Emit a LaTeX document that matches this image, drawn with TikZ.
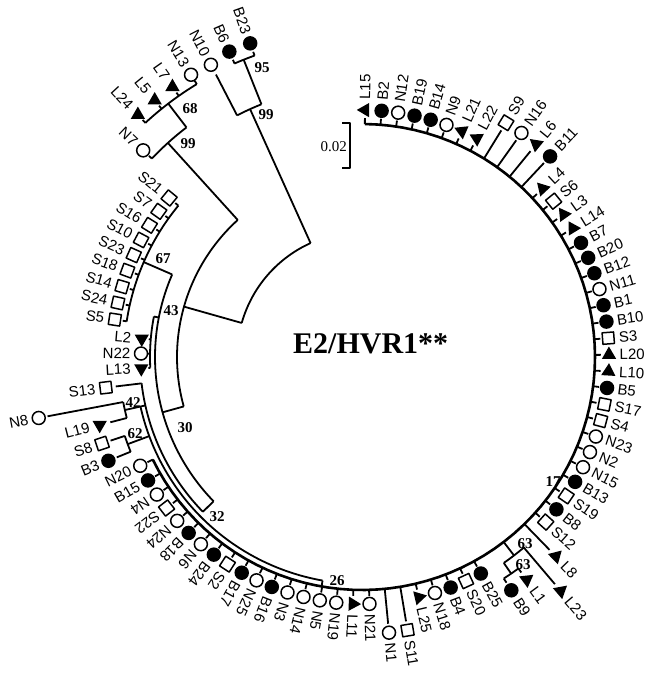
\documentclass[tikz,border=0pt]{standalone}
\usepackage{fontspec}
\setmainfont{Liberation Serif}
\setsansfont{Liberation Sans}
\usetikzlibrary{shapes.geometric}
\newcommand\Arc[3]{\draw[br] plot[domain=#2:#3,samples=80,variable=\q] ({362+(#1)*cos(\q)},{357+(#1)*sin(\q)});}
\newcommand\Rad[3]{\draw[br] ({362+(#2)*cos(#1)},{357+(#2)*sin(#1)}) -- ({362+(#3)*cos(#1)},{357+(#3)*sin(#1)});}
\newcommand\Symb[4]{%
  \if#1B\node[dotB] (#2) at (#3) {};\fi
  \if#1N\node[circN] (#2) at (#3) {};\fi
  \if#1S\node[sqS,rotate=#4] (#2) at (#3) {};\fi
  \if#1L\node[triL,rotate=#4] (#2) at (#3) {};\fi}
\begin{document}
\begin{tikzpicture}[x=1pt,y=-1pt,line join=round,
  br/.style={line width=1.8pt},
  dotB/.style={circle,fill=black,minimum size=14.5pt,inner sep=0pt},
  circN/.style={circle,draw=black,line width=1.5pt,fill=white,minimum size=13pt,inner sep=0pt},
  sqS/.style={rectangle,draw=black,line width=1.5pt,fill=white,minimum size=11.5pt,inner sep=0pt},
  triL/.style={regular polygon,regular polygon sides=3,fill=black,minimum size=16.5pt,inner sep=0pt},
  lab/.style={font=\sffamily\fontsize{15}{15}\selectfont,inner sep=0.5pt},
  bs/.style={font=\bfseries\fontsize{15}{15}\selectfont,inner sep=0pt}]
\useasboundingbox (0,0) rectangle (663,673);
\coordinate (C) at (362,357);
% ---- internal structure ----
\Arc{125}{195.8}{245.7}
\Rad{245.7}{125}{272}
\Arc{272}{242.7}{248.3}
\Rad{248.3}{272}{320}
\Arc{320}{246.5}{250.4}
\Rad{195.8}{125}{185}
\Arc{185}{164.5}{227.8}
\Rad{227.8}{185}{289}
\Arc{289}{223.4}{232.6}
\Rad{232.6}{289}{319}
\Arc{319}{227.2}{238.8}
\Rad{164.5}{185}{207}
\Arc{207}{135.8}{203.5}
\Rad{203.5}{207}{238}
\Arc{238}{188.6}{219.5}
\Rad{191}{207}{212}
\Arc{212}{177.1}{191}
\Rad{135.8}{207}{222}
\Arc{222}{135.8}{173.2}
\Rad{167.4}{222}{243}
\Arc{227}{100}{167.4}
\Arc{243}{165.5}{169.3}
\Rad{159.6}{227}{250}
\Arc{250}{157.7}{161.6}
\Rad{100}{227}{233}
\begin{scope}[br/.style={line width=2.6pt}]
\Arc{233}{-89.3}{153.9}
\end{scope}
\Rad{52.55}{233}{250}
\Arc{250}{49.66}{55.45}
\Rad{55.45}{250}{263}
\Arc{263}{53.52}{57.38}
% ---- leaves ----
\foreach \i/\nm/\tp/\ra/\rb/\rs in {
 0/L15/L/233/239/247, 1/B2/B/233/239/247, 2/N12/N/233/239/247, 3/B19/B/233/239/247,
 4/B14/B/233/239/247, 5/N9/N/233/239/247, 6/L21/L/233/239/247, 7/L22/L/233/239/247,
 8/S9/S/233/266/275, 9/N16/N/233/266/275, 10/L6/L/233/266/275, 11/B11/B/233/266/275,
 12/L4/L/233/239/247, 13/S6/S/233/239/247, 14/L3/L/233/239/247, 15/L14/L/233/239/247,
 16/B7/B/233/239/247, 17/B20/B/233/239/247, 18/B12/B/233/239/247, 19/N11/N/233/239/247,
 20/B1/B/233/239/247, 21/B10/B/233/239/247, 22/S3/S/233/239/247, 23/L20/L/233/239/247,
 24/L10/L/233/239/247, 25/B5/B/233/239/247, 26/S17/S/233/239/247, 27/S4/S/233/239/247,
 28/N23/N/233/239/247, 29/N2/N/233/239/247, 30/N15/N/233/239/247, 31/B13/B/233/239/247,
 32/S19/S/233/239/247, 33/B8/B/233/239/247, 34/S12/S/233/239/247, 35/L8/L/233/269/278,
 36/L23/L/250/298/307, 37/L1/L/263/268/277, 38/B9/B/263/268/277, 39/B25/B/233/239/247,
 40/S20/S/233/239/247, 41/B4/B/233/239/247, 42/N18/N/233/239/247, 43/L25/L/233/239/247,
 44/S11/S/233/268/277, 45/N1/N/233/268/277, 46/N21/N/233/239/247, 47/L11/L/233/239/247,
 48/N19/N/233/239/247, 49/N5/N/233/239/247, 50/N14/N/233/239/247, 51/N3/N/233/239/247,
 52/B16/B/233/239/247, 53/N25/N/233/239/247, 54/B17/B/233/239/247, 55/S2/S/233/239/247,
 56/B24/B/233/239/247, 57/N6/N/233/239/247, 58/B18/B/233/239/247, 59/N24/N/233/239/247,
 60/S22/S/233/239/247, 61/N4/N/233/239/247, 62/B15/B/233/239/247, 63/N20/N/233/239/247,
 64/B3/B/250/265/274, 65/S8/S/250/265/274, 66/L19/D/243/260/271, 67/N8/N/243/320/329,
 68/S13/S/222/248/258, 69/L13/D/212/214/221, 70/N22/N/212/214/221, 71/L2/D/212/214/221,
 72/S5/S/238/242/250, 73/S24/S/238/242/250, 74/S14/S/238/242/250, 75/S18/S/238/242/250,
 76/S23/S/238/242/250, 77/S10/S/238/242/250, 78/S16/S/238/242/250, 79/S7/S/238/242/250,
 80/S21/S/238/242/250, 81/N7/N/289/293/301, 82/L24/U/319/323/330, 83/L5/U/319/323/330,
 84/L7/U/319/323/330, 85/N13/N/319/323/330, 86/N10/N/272/318/329, 87/B6/B/320/324/333,
 88/B23/B/320/324/333}{
  \pgfmathsetmacro\th{-89.3+3.86*\i}
  \pgfmathsetmacro\rl{\rs+10}
  \if\tp D\def\rot{180}\def\ty{L}\else
    \if\tp U\def\rot{0}\def\ty{L}\else
      \pgfmathsetmacro\rot{-\th}\let\ty\tp\fi\fi
  \coordinate (b\nm) at ({362+\ra*cos(\th)},{357+\ra*sin(\th)});
  \coordinate (e\nm) at ({362+\rb*cos(\th)},{357+\rb*sin(\th)});
  \draw[br] (b\nm) -- (e\nm);
  \Symb{\ty}{lf\nm}{{362+\rs*cos(\th)},{357+\rs*sin(\th)}}{\rot}
  \pgfmathtruncatemacro\outw{\th<148 ? 1 : 0}
  \ifnum\outw=1
    \pgfmathsetmacro\lr{-\th}
    \node[lab,rotate=\lr,anchor=west] (t\nm) at ({362+\rl*cos(\th)},{357+\rl*sin(\th)}) {\nm};
  \else
    \pgfmathsetmacro\lr{180-\th}
    \node[lab,rotate=\lr,anchor=east] (t\nm) at ({362+\rl*cos(\th)},{357+\rl*sin(\th)}) {\nm};
  \fi
}
% ---- bootstrap values ----
\node[bs] (v95) at (262,68) {95};
\node[bs] (v99a) at (266,115) {99};
\node[bs] (v68) at (190,109) {68};
\node[bs] (v99b) at (188,144) {99};
\node[bs] (v67) at (163,259) {67};
\node[bs] (v43) at (171,311) {43};
\node[bs] (v30) at (185,428) {30};
\node[bs] (v42) at (133,403) {42};
\node[bs] (v62) at (135,434) {62};
\node[bs] (v32) at (217,517) {32};
\node[bs] (v26) at (337,581) {26};
\node[bs] (v17) at (553,482) {17};
\node[bs] (v63a) at (525,544) {63};
\node[bs] (v63b) at (523,565) {63};
% ---- scale bar ----
\coordinate (s1) at (342,123);
\coordinate (s2) at (350,123);
\coordinate (s3) at (350,168);
\coordinate (s4) at (342,168);
\draw[br] (s1) -- (s2) -- (s3) -- (s4);
\node[font=\fontsize{15}{15}\selectfont,anchor=east,inner sep=0pt] (scale) at (347,147) {0.02};
% ---- title ----
\node[font=\bfseries\fontsize{30}{30}\selectfont,anchor=base west,inner sep=0pt] (title) at (293,353) {E2/HVR1**};
\end{tikzpicture}
\end{document}
